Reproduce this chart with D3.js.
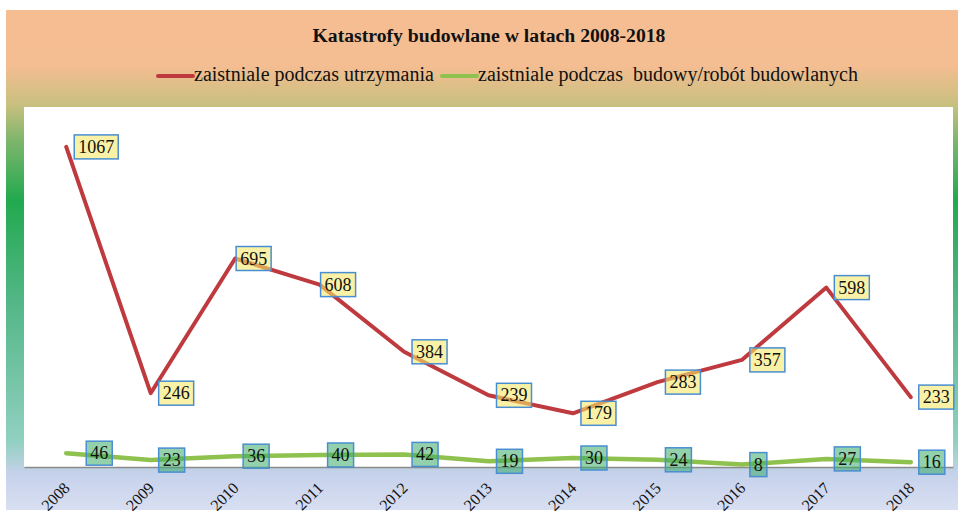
<!DOCTYPE html>
<html><head><meta charset="utf-8">
<script src="https://cdn.jsdelivr.net/npm/d3@7"></script>
<style>
html,body{margin:0;padding:0;background:#fff;}
svg{display:block;}
text{font-family:"Liberation Serif","Times New Roman",serif;}
</style></head>
<body>
<svg id="chart" width="963" height="516"></svg>
<script>
// ---- data ----
const years = ["2008","2009","2010","2011","2012","2013","2014","2015","2016","2017","2018"];
const maintenance = [1067,246,695,608,384,239,179,283,357,598,233];
const construction = [46,23,36,40,42,19,30,24,8,27,16];
const seriesNames = ["zaistniale podczas utrzymania","zaistniale podczas  budowy/robót budowlanych"];
const title = "Katastrofy budowlane w latach 2008-2018";

// ---- layout (not data) ----
const plot = {x0:24, x1:953, y0:107, y1:467};
const redNudge = [0,0,-7,-7,0,0,0,0,0,0,0];
const greenNudge = [12,0,0,0,0,0,0,0,0,0,0];

const svg = d3.select("#chart");
const defs = svg.append("defs");
const bg = defs.append("linearGradient").attr("id","bg").attr("x1",0).attr("y1",0).attr("x2",0).attr("y2",1);
[[0,"#f6bd93"],[0.11,"#f5bd92"],[0.19,"#c8c07f"],[0.26,"#7fb66c"],[0.38,"#22a94f"],[0.58,"#52b686"],
 [0.86,"#90d0c0"],[0.905,"#b3d2da"],[0.925,"#c5d1eb"],[1,"#d8dff2"]]
 .forEach(([o,c])=>bg.append("stop").attr("offset",o).attr("stop-color",c));

svg.append("rect").attr("x",6).attr("y",10).attr("width",952).attr("height",500).attr("fill","url(#bg)");
svg.append("rect").attr("x",plot.x0).attr("y",plot.y0).attr("width",plot.x1-plot.x0).attr("height",plot.y1-plot.y0).attr("fill","#fff");

const x = d3.scalePoint().domain(years).range([plot.x0, plot.x1]).padding(0.5);
const y = d3.scaleLinear().domain([0,1200]).range([plot.y1, plot.y0]);

// title
svg.append("text").attr("x",489).attr("y",42).attr("text-anchor","middle")
  .attr("font-size",19.7).attr("font-weight","bold").attr("fill","#111").text(title);

// legend
const leg = [{name:seriesNames[0],color:"#be3a3e",x:158},{name:seriesNames[1],color:"#8fc14f",x:442}];
leg.forEach(l=>{
  svg.append("line").attr("x1",l.x).attr("x2",l.x+35).attr("y1",76).attr("y2",76)
    .attr("stroke",l.color).attr("stroke-width",4).attr("stroke-linecap","round");
  svg.append("text").attr("x",l.x+36).attr("y",81).attr("font-size",20).attr("fill","#111")
    .style("white-space","pre").text(l.name);
});

// axis
const ax = svg.append("g").attr("transform",`translate(0,${plot.y1})`)
  .call(d3.axisBottom(x).tickSize(0).tickPadding(0));
ax.select(".domain").attr("stroke","#8a8a8a").attr("stroke-width",1.5);
ax.selectAll("text").attr("font-size",16).attr("fill","#111")
  .attr("font-family","'Liberation Serif',serif")
  .attr("text-anchor","end").attr("dy",0)
  .attr("transform","translate(4,22) rotate(-45)");

// lines
const line = d3.line().x((d,i)=>x(years[i])).y(d=>y(d));
svg.append("path").datum(maintenance).attr("d",line).attr("fill","none")
  .attr("stroke","#be3a3e").attr("stroke-width",4).attr("stroke-linejoin","round").attr("stroke-linecap","round");
svg.append("path").datum(construction).attr("d",line).attr("fill","none")
  .attr("stroke","#8fc14f").attr("stroke-width",4.5).attr("stroke-linejoin","round").attr("stroke-linecap","round");

// labels
function labels(vals, nudge, fill){
  vals.forEach((v,i)=>{
    const g = svg.append("g");
    const t = g.append("text").attr("font-size",18).attr("fill","#111").text(v);
    const w = t.node().getComputedTextLength() + 8;
    const h = 24;
    const bx = x(years[i]) + 8 + nudge[i];
    const by = y(v) - h/2;
    g.insert("rect","text").attr("x",bx).attr("y",by).attr("width",w).attr("height",h)
      .attr("fill",fill.c).attr("fill-opacity",fill.o).attr("stroke","#4a8ed2").attr("stroke-width",1.5);
    t.attr("x",bx+w/2).attr("y",by+h/2+6).attr("text-anchor","middle");
  });
}
labels(maintenance, redNudge, {c:"#f5e96a",o:0.6});
labels(construction, greenNudge, {c:"#3aab6a",o:0.55});
</script>
</body></html>
